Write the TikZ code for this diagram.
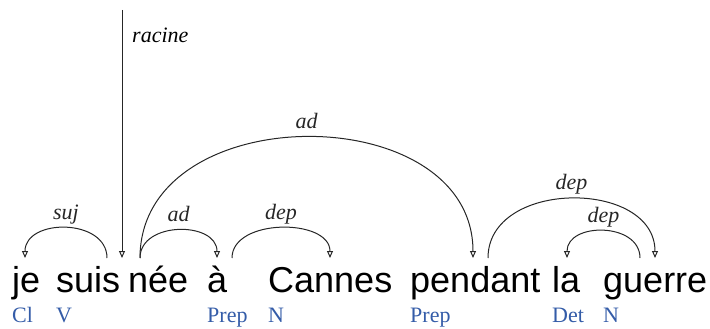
\documentclass[tikz,border=0pt]{standalone}
\usepackage{fontspec}
\setmainfont{Liberation Serif}
\setsansfont{Liberation Sans}
\usepackage{tikz}
\usetikzlibrary{arrows.meta}
\definecolor{tagblue}{RGB}{52,92,168}
\tikzset{
  word/.style={anchor=base west,inner sep=0pt,font=\sffamily\fontsize{36}{40}\selectfont},
  tag/.style={anchor=base west,inner sep=0pt,text=tagblue,font=\fontsize{22}{24}\selectfont},
  lbl/.style={anchor=base,inner sep=0pt,yshift=9pt,font=\itshape\fontsize{22}{24}\selectfont},
  arc/.style={line width=1pt,black!85,-{Triangle[open,length=7pt,width=6pt]}},
}

\begin{document}
\begin{tikzpicture}[x=1pt,y=-1pt]
        \useasboundingbox (0,0) rectangle (710,329);
        % words
        \node (je) at (12,292) [word] {je};
        \node (suis) at (56,292) [word] {suis};
        \node (nee) at (128,292) [word] {née};
        \node (a) at (207,292) [word] {à};
        \node (cannes) at (268,292) [word] {Cannes};
        \node (pendant) at (410,292) [word] {pendant};
        \node (la) at (552,292) [word] {la};
        \node (guerre) at (603,292) [word] {guerre};
        % categories
        \node (t-je) at (12,322) [tag] {Cl};
        \node (t-suis) at (56,322) [tag] {V};
        \node (t-a) at (207,322) [tag] {Prep};
        \node (t-cannes) at (268,322) [tag] {N};
        \node (t-pendant) at (410,322) [tag] {Prep};
        \node (t-la) at (552,322) [tag] {Det};
        \node (t-guerre) at (603,322) [tag] {N};
        % arc ends above the words
        \coordinate (top) at (122,10);
        \coordinate (je-p) at (25,258);
        \coordinate (suis-p) at (107,258);
        \coordinate (nee-r) at (122,258);
        \coordinate (nee-p) at (140,258);
        \coordinate (a-in) at (217,258);
        \coordinate (a-p) at (232,258);
        \coordinate (cannes-p) at (330,258);
        \coordinate (pendant-in) at (473,258);
        \coordinate (pendant-p) at (488,258);
        \coordinate (la-p) at (567,258);
        \coordinate (guerre-p) at (640,258);
        \coordinate (guerre-in) at (655,258);
        % dependencies
        \draw [arc] (top) -- (nee-r);
        \node (racine) at (132,43) [anchor=base west,inner sep=0pt,font=\itshape\fontsize{22}{24}\selectfont] {racine};
        \draw [arc] (suis-p) .. controls +(0,-40) and +(0,-40) .. (je-p) node [pos=0.5,lbl] {suj};
        \draw [arc] (nee-p) .. controls +(0,-37) and +(0,-37) .. (a-in) node [pos=0.5,lbl] {ad};
        \draw [arc] (nee-p) .. controls +(0,-161) and +(0,-161) .. (pendant-in) node [pos=0.5,lbl] {ad};
        \draw [arc] (a-p) .. controls +(0,-40) and +(0,-40) .. (cannes-p) node [pos=0.5,lbl] {dep};
        \draw [arc] (pendant-p) .. controls +(0,-79) and +(0,-79) .. (guerre-in) node [pos=0.5,lbl] {dep};
        \draw [arc] (guerre-p) .. controls +(0,-36) and +(0,-36) .. (la-p) node [pos=0.5,lbl] {dep};
      \end{tikzpicture}
\end{document}
